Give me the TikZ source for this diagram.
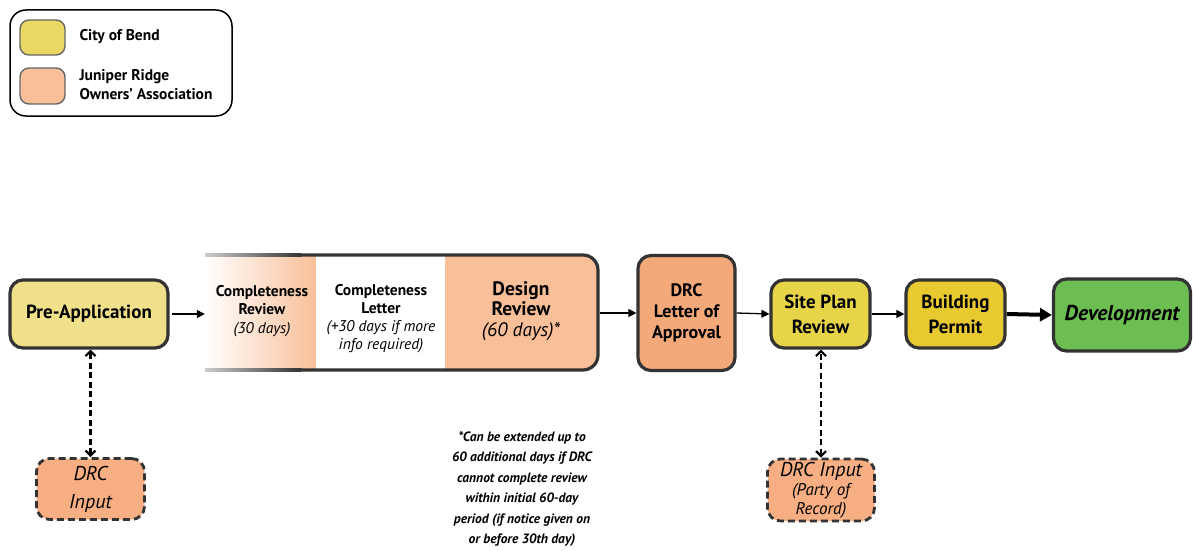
\documentclass[tikz,border=0pt]{standalone}
\usepackage{fontspec}
\setmainfont{PT Sans}
\usetikzlibrary{arrows.meta}
\definecolor{bord}{HTML}{333333}
\definecolor{peach}{HTML}{F9BF99}
\definecolor{drcorange}{HTML}{F4A97B}
\definecolor{inorange}{HTML}{F6AE82}
\definecolor{preyel}{HTML}{F0E08A}
\definecolor{legyel}{HTML}{EBD764}
\definecolor{siteyel}{HTML}{E8D448}
\definecolor{buildyel}{HTML}{E8C930}
\definecolor{devgreen}{HTML}{6DBE52}
\tikzset{
  x=1pt,y=-1pt,
  box/.style={draw=bord,line width=3.2pt,rounded corners=13pt,align=center,inner sep=1pt,font=\bfseries},
  inbox/.style={draw=bord,line width=2.8pt,dash pattern=on 7pt off 4pt,rounded corners=13pt,fill=inorange,align=center,inner sep=1pt,font=\itshape},
  swatch/.style={draw=gray!80!black,line width=1.4pt,rounded corners=9pt,minimum width=45pt,minimum height=35pt},
  flow/.style={-{Triangle[length=8pt,width=8pt]},line width=1.3pt,black},
  dflow/.style={{Straight Barb[length=5pt,width=10pt]}-{Straight Barb[length=5pt,width=10pt]},line width=2.2pt,dash pattern=on 6pt off 3.5pt,black},
  lbl/.style={anchor=west,align=left,font=\bfseries\fontsize{15.5}{19}\selectfont}
}
\begin{document}
\begin{tikzpicture}
\useasboundingbox (0,0) rectangle (1193,551);
% legend
\node[draw=black,line width=1.5pt,rounded corners=16pt,minimum width=222pt,minimum height=106pt] (legend) at (121,63) {};
\node[swatch,fill=legyel] (sw1) at (42.5,37.5) {};
\node[swatch,fill=peach,minimum height=36pt] (sw2) at (42.5,86) {};
\node[lbl] (l1) at (76,37) {City of Bend};
\node[lbl] (l2) at (76,85) {Juniper Ridge\\Owners’ Association};
% big review box
\shade[left color=white,right color=peach] (205,255) rectangle (316,370);
\fill[white] (316,255) rectangle (445,370);
\fill[peach,rounded corners=15pt] (445,255) -- (598,255) -- (598,370) -- (445,370) [sharp corners] -- cycle;
\fill[peach] (445,255) rectangle (560,370);
\draw[bord,line width=3.2pt,rounded corners=15pt] (300,255) -- (598,255) -- (598,370) -- (300,370);
\shade[left color=bord!25,right color=bord] (205,253.4) rectangle (301,256.6);
\shade[left color=bord!25,right color=bord] (205,368.4) rectangle (301,371.6);
\node (big) at (401.5,312.5) [minimum width=393pt,minimum height=115pt,inner sep=0pt] {};
\node[align=center,font=\bfseries\fontsize{15.5}{18.5}\selectfont] (cr) at (262,311) {Completeness\\Review\\{\mdseries\itshape (30 days)}};
\node[align=center,font=\bfseries\fontsize{15.5}{18}\selectfont] (cl) at (381,319) {Completeness\\Letter\\{\mdseries\itshape\fontsize{15.5}{17}\selectfont (+30 days if more}\\{\mdseries\itshape\fontsize{15.5}{17}\selectfont info required)}};
\node[align=center,font=\bfseries\fontsize{19.5}{20.5}\selectfont] (dr) at (521,311) {Design\\Review\\{\itshape\mdseries (60 days)*}};
% main boxes
\node[box,fill=preyel,minimum width=158pt,minimum height=68pt,font=\bfseries\fontsize{19}{22}\selectfont] (pre) at (89,314) {Pre-Application};
\node[box,fill=drcorange,minimum width=97pt,minimum height=115pt,font=\bfseries\fontsize{18}{21}\selectfont] (drc) at (686.5,313) {DRC\\Letter of\\Approval};
\node[box,fill=siteyel,minimum width=99pt,minimum height=68pt,font=\bfseries\fontsize{19}{25}\selectfont] (site) at (820.5,314) {Site Plan\\Review};
\node[box,fill=buildyel,minimum width=99pt,minimum height=68pt,font=\bfseries\fontsize{19}{25}\selectfont] (build) at (955.5,314) {Building\\Permit};
\node[box,fill=devgreen,minimum width=137pt,minimum height=72pt,font=\bfseries\itshape\fontsize{21.5}{24}\selectfont] (dev) at (1122,315) {Development};
% input boxes
\node[inbox,minimum width=108pt,minimum height=61pt,font=\itshape\fontsize{20}{28}\selectfont] (in1) at (90.5,489) {DRC\\Input};
\node[inbox,minimum width=107pt,minimum height=62pt,font=\itshape\fontsize{20}{19}\selectfont] (in2) at (821,490) {DRC Input\\{\fontsize{17}{17}\selectfont (Party of}\\{\fontsize{17}{17}\selectfont Record)}};
% connectors
\draw[flow] (pre.east) ++(2pt,0) -- (big.west |- pre.east);
\draw[flow] (big.east |- drc.west) ++(2pt,0) -- (drc.west);
\draw[flow] (drc.east) -- (site.west);
\draw[flow] (site.east) -- (build.west);
\draw[-{Triangle[length=12pt,width=13pt]},line width=4pt,black] (build.east) -- (dev.west);
\draw[dflow] (in1.north) -- (in1.north |- pre.south);
\draw[dflow] (in2.north) -- (in2.north |- site.south);
% note
\node[align=center,font=\bfseries\itshape\fontsize{13.5}{20.5}\selectfont] (note) at (522,489) {*Can be extended up to\\60 additional days if DRC\\cannot complete review\\within initial 60-day\\period (if notice given on\\or before 30th day)};
\end{tikzpicture}
\end{document}
